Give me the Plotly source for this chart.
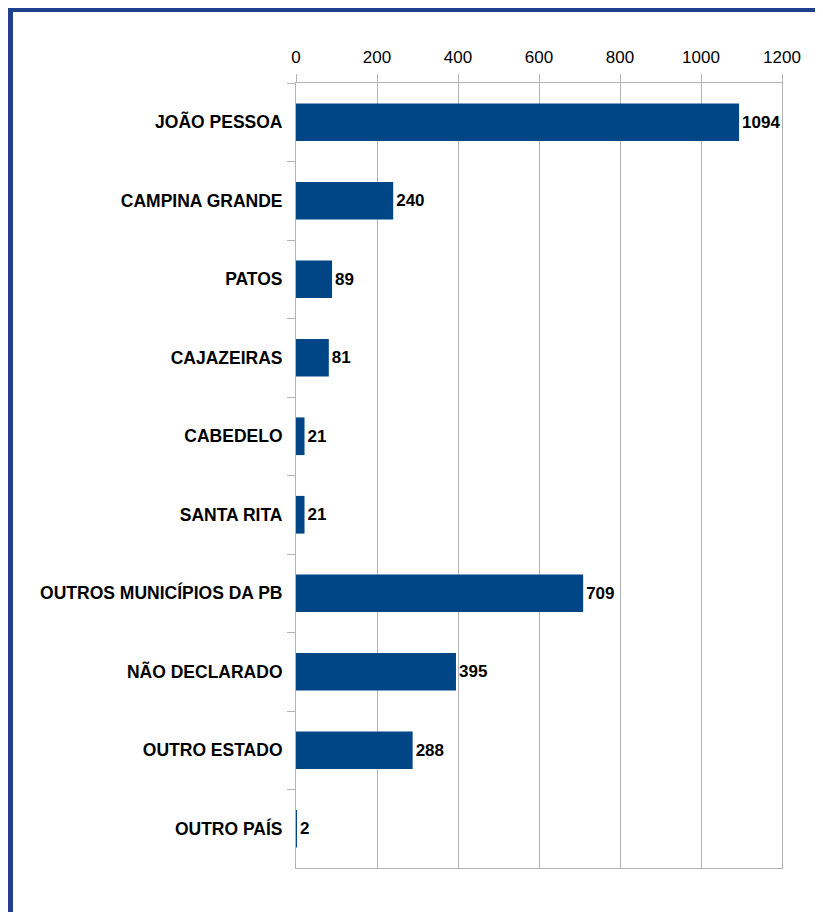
import plotly.graph_objects as go

categories = ["JOÃO PESSOA", "CAMPINA GRANDE", "PATOS", "CAJAZEIRAS", "CABEDELO",
              "SANTA RITA", "OUTROS MUNICÍPIOS DA PB", "NÃO DECLARADO", "OUTRO ESTADO", "OUTRO PAÍS"]
values = [1094, 240, 89, 81, 21, 21, 709, 395, 288, 2]
x_ticks = [0, 200, 400, 600, 800, 1000, 1200]

# page has an 8px body margin; figure coordinates are page minus 8
W, H = 815, 904
L, T = 288, 75
R = W - 774
B = H - 860
pw, ph = W - L - R, H - T - B

def px_x(p):
    return (p - L) / pw

def px_y(p):
    return (H - B - p) / ph

fig = go.Figure(go.Bar(
    y=categories, x=values, orientation="h",
    marker=dict(color="#004586", line=dict(width=0)),
    width=0.48,
    text=[str(v) for v in values], textposition="outside",
    textfont=dict(family="Liberation Sans, Arial, sans-serif", size=17, color="#000000"),
    texttemplate="<b>%{text}</b>",
    cliponaxis=False,
))

border = "#213f8f"
fig.update_layout(
    width=W, height=H,
    margin=dict(l=L, r=R, t=T, b=B, autoexpand=False),
    paper_bgcolor="white", plot_bgcolor="white",
    showlegend=False,
    font=dict(family="Liberation Sans, Arial, sans-serif", size=17, color="#000000"),
    xaxis=dict(side="top", range=[0, 1200], tickvals=x_ticks, ticktext=[str(t) for t in x_ticks],
               showgrid=True, gridcolor="#b3b3b3", gridwidth=1,
               showline=True, linecolor="#b3b3b3", linewidth=1, mirror=True,
               ticks="outside", ticklen=8, tickcolor="#b3b3b3",
               zeroline=False, tickfont=dict(size=17, color="#000000"), fixedrange=True,
               ticklabelstandoff=4),
    yaxis=dict(categoryorder="array", categoryarray=categories, autorange="reversed",
               showline=True, linecolor="#b3b3b3", linewidth=1, mirror=True,
               ticks="outside", ticklen=8, tickcolor="#b3b3b3", tickson="boundaries",
               showgrid=False,
               tickfont=dict(size=17.5, color="#000000", weight="bold"), ticklabelstandoff=9),
    bargap=0.52,
    shapes=[
        dict(type="line", xref="paper", yref="paper", x0=px_x(2.5), x1=px_x(830),
             y0=px_y(1.5), y1=px_y(1.5), line=dict(color=border, width=5)),
        dict(type="line", xref="paper", yref="paper", x0=px_x(2.5), x1=px_x(2.5),
             y0=px_y(-1), y1=px_y(920), line=dict(color=border, width=5)),
    ],
)

fig.write_html("out.html")
